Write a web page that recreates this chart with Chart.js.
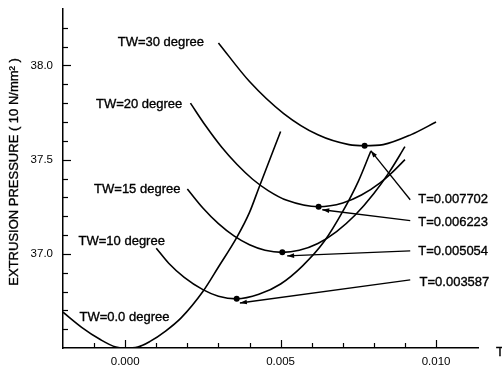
<!DOCTYPE html>
<html>
<head>
<meta charset="utf-8">
<script src="https://cdn.jsdelivr.net/npm/chart.js@4.4.1/dist/chart.umd.min.js"></script>
<style>
  html, body { margin: 0; padding: 0; background: #fff; }
  #wrap { width: 502px; height: 367px; }
</style>
</head>
<body>
<div id="wrap"><canvas id="c" width="502" height="367"></canvas></div>
<script>
// Extrusion pressure against T for several TW angles

const tw0T  = [-0.0020, -0.0014, -0.0008, -0.0003, 0.0000, 0.0004, 0.0008, 0.0013, 0.0018, 0.0025, 0.0030, 0.0036, 0.0040, 0.0043, 0.0050];
const tw0P  = [36.69, 36.61, 36.545, 36.505, 36.50, 36.505, 36.535, 36.59, 36.66, 36.80, 36.93, 37.09, 37.22, 37.35, 37.65];

const tw10T = [0.0010, 0.0014, 0.0019, 0.0025, 0.0030, 0.003587, 0.0043, 0.0050, 0.0057, 0.0064, 0.0070, 0.0075, 0.0079];
const tw10P = [37.03, 36.95, 36.875, 36.81, 36.775, 36.761, 36.785, 36.84, 36.935, 37.065, 37.225, 37.385, 37.545];

const tw15T = [0.0020, 0.0025, 0.0030, 0.0035, 0.0040, 0.0045, 0.005054, 0.0056, 0.0062, 0.0068, 0.0074, 0.0080, 0.0085, 0.0090];
const tw15P = [37.344, 37.243, 37.16, 37.095, 37.048, 37.019, 37.008, 37.019, 37.055, 37.118, 37.206, 37.32, 37.435, 37.569];

const tw20T = [0.0021, 0.0026, 0.0031, 0.0036, 0.0041, 0.0046, 0.0052, 0.006223, 0.0070, 0.0076, 0.0082, 0.0086, 0.0090];
const tw20P = [37.80, 37.677, 37.567, 37.474, 37.396, 37.336, 37.284, 37.25, 37.27, 37.312, 37.377, 37.434, 37.50];

const tw30T = [0.0030, 0.0040, 0.0051, 0.0062, 0.0072, 0.007702, 0.0083, 0.0092, 0.0100];
const tw30P = [38.12, 37.915, 37.745, 37.632, 37.58, 37.574, 37.58, 37.633, 37.70];

// optimum points marked on the curves
const minT = [0.003587, 0.005054, 0.006223, 0.007702];
const minP = [36.761, 37.008, 37.25, 37.574];

// curve names and where they sit (left edge, middle of text)
const curveNames = ['TW=0.0 degree', 'TW=10 degree', 'TW=15 degree', 'TW=20 degree', 'TW=30 degree'];
const nameT = [-0.00147, -0.00150, -0.00100, -0.00094, -0.00024];
const nameP = [36.660, 37.064, 37.340, 37.793, 38.121];

// call-outs for the optimum T values
const tagText = ['T=0.007702', 'T=0.006223', 'T=0.005054', 'T=0.003587'];
const tagT = [0.00943, 0.00943, 0.00943, 0.00947];
const tagP = [37.287, 37.168, 37.013, 36.846];
const ptrFromT = [0.00917, 0.00917, 0.00917, 0.00917];
const ptrFromP = [37.287, 37.176, 37.016, 36.862];
const ptrToT   = [0.00790, 0.00634, 0.00521, 0.00369];
const ptrToP   = [37.548, 37.234, 36.989, 36.739];

// axis ticks
const xMajorTicks = [0.000, 0.005, 0.010];
const xTickLabels = ['0.000', '0.005', '0.010'];
const yMajorTicks = [37.0, 37.5, 38.0];
const yTickLabels = ['37.0', '37.5', '38.0'];

const FONT = '"Liberation Sans", Arial, Helvetica, sans-serif';
const INK = '#000';

const toXY = (ts, ps) => ts.map((t, i) => ({ x: t, y: ps[i] }));

function curve(ts, ps) {
  return {
    data: toXY(ts, ps),
    showLine: true,
    borderColor: INK,
    borderWidth: 1.6,
    pointRadius: 0,
    cubicInterpolationMode: 'monotone',
    fill: false
  };
}

const datasets = [
  curve(tw0T, tw0P),
  curve(tw10T, tw10P),
  curve(tw15T, tw15P),
  curve(tw20T, tw20P),
  curve(tw30T, tw30P),
  {
    data: toXY(minT, minP),
    showLine: false,
    pointRadius: 3,
    pointBackgroundColor: INK,
    pointBorderColor: INK,
    pointBorderWidth: 0
  }
];
ptrFromT.forEach((t, i) => {
  datasets.push({
    data: [{ x: t, y: ptrFromP[i] }, { x: ptrToT[i], y: ptrToP[i] }],
    showLine: true,
    borderColor: INK,
    borderWidth: 1.3,
    pointRadius: 0,
    tension: 0
  });
});

function near(a, b) { return Math.abs(a - b) < 1e-9; }
function onStep(v, step) { const k = v / step; return Math.abs(k - Math.round(k)) < 1e-6; }

function heavyText(ctx, s, px, py) {
  ctx.fillText(s, px, py);
  ctx.strokeText(s, px, py);
}

const decor = {
  id: 'decor',
  afterDraw(chart) {
    const { ctx, chartArea: a, scales: { x, y } } = chart;
    ctx.save();
    ctx.strokeStyle = INK;
    ctx.fillStyle = INK;
    ctx.lineWidth = 1.2;

    // inward tick marks
    x.ticks.forEach(t => {
      const v = t.value;
      if (v <= x.min + 1e-9 || v >= x.max - 1e-9 || !onStep(v, 0.001)) return;
      const major = xMajorTicks.some(m => near(m, v));
      const px = Math.round(x.getPixelForValue(v)) + 0.5;
      ctx.beginPath();
      ctx.moveTo(px, a.bottom);
      ctx.lineTo(px, a.bottom - (major ? 8 : 5));
      ctx.stroke();
    });
    y.ticks.forEach(t => {
      const v = t.value;
      if (v <= y.min + 1e-9 || v >= y.max - 1e-9 || !onStep(v, 0.1)) return;
      const major = yMajorTicks.some(m => Math.abs(m - v) < 1e-6);
      const py = Math.round(y.getPixelForValue(v)) + 0.5;
      ctx.beginPath();
      ctx.moveTo(a.left, py);
      ctx.lineTo(a.left + (major ? 8 : 5), py);
      ctx.stroke();
    });

    // arrow heads on the call-out lines
    ptrToT.forEach((t, i) => {
      const x1 = x.getPixelForValue(ptrFromT[i]), y1 = y.getPixelForValue(ptrFromP[i]);
      const x2 = x.getPixelForValue(t), y2 = y.getPixelForValue(ptrToP[i]);
      const ang = Math.atan2(y2 - y1, x2 - x1);
      const L = 7, W = 2.3;
      ctx.beginPath();
      ctx.moveTo(x2, y2);
      ctx.lineTo(x2 - L * Math.cos(ang) + W * Math.sin(ang), y2 - L * Math.sin(ang) - W * Math.cos(ang));
      ctx.lineTo(x2 - L * Math.cos(ang) - W * Math.sin(ang), y2 - L * Math.sin(ang) + W * Math.cos(ang));
      ctx.closePath();
      ctx.fill();
    });

    // text
    ctx.font = '13px ' + FONT;
    ctx.lineWidth = 0.35;
    ctx.textAlign = 'left';
    ctx.textBaseline = 'middle';
    curveNames.forEach((s, i) => {
      heavyText(ctx, s, x.getPixelForValue(nameT[i]), y.getPixelForValue(nameP[i]));
    });
    tagText.forEach((s, i) => {
      heavyText(ctx, s, x.getPixelForValue(tagT[i]), y.getPixelForValue(tagP[i]));
    });

    // axis titles
    heavyText(ctx, 'T', a.right + 18, a.bottom + 4);
    ctx.save();
    ctx.translate(14, y.getPixelForValue(37.435));
    ctx.rotate(-Math.PI / 2);
    ctx.textAlign = 'center';
    heavyText(ctx, 'EXTRUSION PRESSURE ( 10 N/mm\u00B2 )', 0, 0);
    ctx.restore();

    ctx.restore();
  }
};

new Chart(document.getElementById('c'), {
  type: 'scatter',
  data: { datasets },
  options: {
    responsive: false,
    devicePixelRatio: 1,
    animation: false,
    events: [],
    layout: { padding: { left: 0, top: 9, right: 24, bottom: 0 } },
    plugins: { legend: { display: false }, tooltip: { enabled: false } },
    scales: {
      x: {
        type: 'linear',
        position: 'bottom',
        min: -0.002,
        max: 0.01135,
        grid: { display: false, drawTicks: false },
        border: { display: true, color: INK, width: 1.5 },
        afterFit(s) { s.height = 19; s.paddingLeft = 0; s.paddingRight = 0; },
        ticks: {
          stepSize: 0.001,
          autoSkip: false,
          maxRotation: 0,
          padding: 7,
          color: INK,
          font: { family: FONT, size: 11.5 },
          callback(v) {
            const i = xMajorTicks.findIndex(m => near(m, v));
            return i >= 0 ? xTickLabels[i] : '';
          }
        }
      },
      y: {
        type: 'linear',
        position: 'left',
        min: 36.5,
        max: 38.3,
        grid: { display: false, drawTicks: false },
        border: { display: true, color: INK, width: 1.5 },
        afterFit(s) { s.width = 63; s.paddingTop = 0; s.paddingBottom = 0; },
        ticks: {
          stepSize: 0.1,
          autoSkip: false,
          padding: 10,
          color: INK,
          font: { family: FONT, size: 11.5 },
          callback(v) {
            const i = yMajorTicks.findIndex(m => Math.abs(m - v) < 1e-6);
            return i >= 0 ? yTickLabels[i] : '';
          }
        }
      }
    }
  },
  plugins: [decor]
});
</script>
</body>
</html>
